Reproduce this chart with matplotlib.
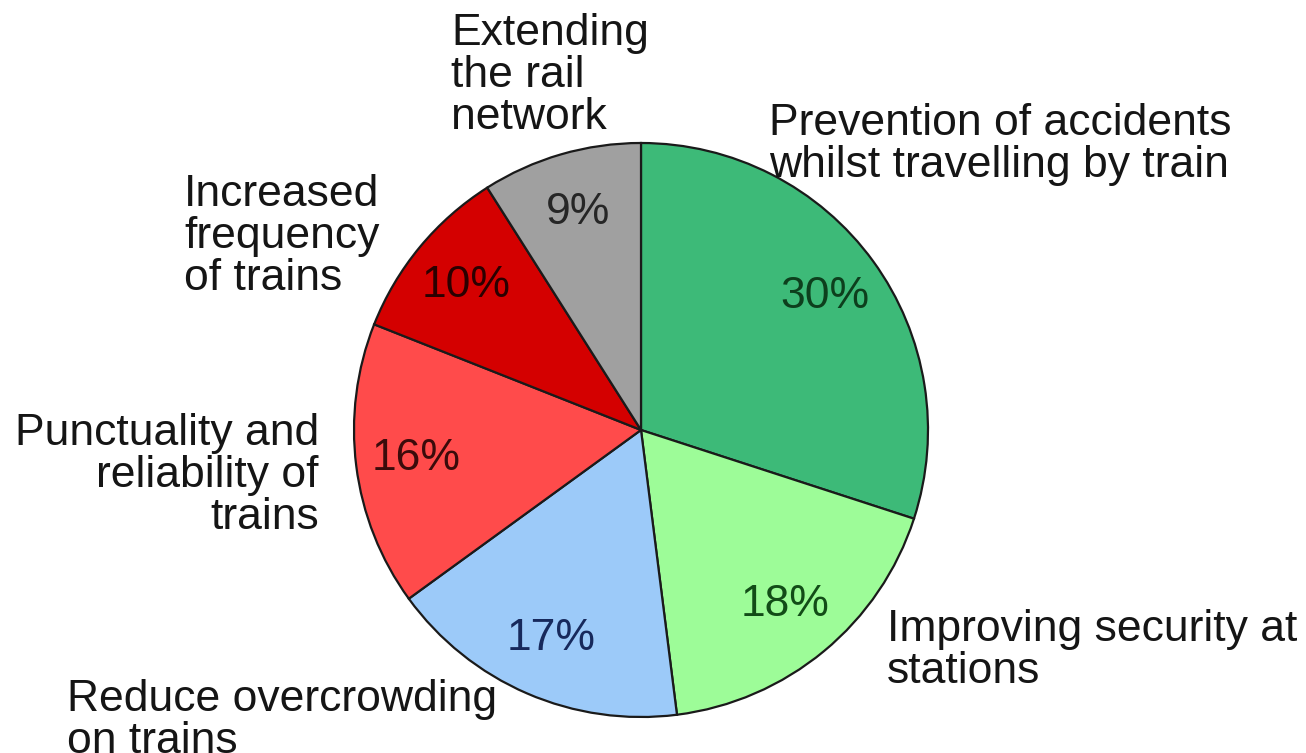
import matplotlib.pyplot as plt

# Survey shares, clockwise from twelve o'clock
categories = [
    "Prevention of accidents\nwhilst travelling by train",
    "Improving security at\nstations",
    "Reduce overcrowding\non trains",
    "Punctuality and\nreliability of\ntrains",
    "Increased\nfrequency\nof trains",
    "Extending\nthe rail\nnetwork",
]
shares = [30, 18, 17, 16, 10, 9]
slice_colors = ["#3dba78", "#9dfc98", "#9ccaf9", "#ff4b4b", "#d40000", "#a0a0a0"]
pct_colors = ["#0d3f1d", "#124c17", "#17295c", "#3b0b0b", "#2b0000", "#262626"]

# category label placement in pixels (x, top y), with horizontal alignment
label_pos = [
    (769, 103, "left"),
    (887, 609, "left"),
    (67, 679, "left"),
    (319, 413, "right"),
    (184, 174, "left"),
    (451, 13, "left"),
]

W, H = 1306, 753
plt.rcParams["font.family"] = ["Liberation Sans", "DejaVu Sans"]

fig = plt.figure(figsize=(W / 100, H / 100), dpi=100)
ax = fig.add_axes([0, 0, 1, 1])

wedges, _, pcts = ax.pie(
    shares,
    colors=slice_colors,
    startangle=90,
    counterclock=False,
    center=(641, H - 430),
    radius=287,
    autopct="%d%%",
    pctdistance=0.79,
    wedgeprops={"edgecolor": "#1a1a1a", "linewidth": 1.6},
    textprops={"fontsize": 32},
    frame=True,
)
ax.set_xlim(0, W)
ax.set_ylim(0, H)
ax.set_aspect("equal")
ax.axis("off")

for t, c in zip(pcts, pct_colors):
    t.set_color(c)

for name, (x, y, ha) in zip(categories, label_pos):
    ax.text(x, H - y, name, ha=ha, va="top", multialignment=ha,
            fontsize=32, linespacing=1.03, color="#151515")

fig.savefig("out.png", dpi=100, facecolor="white")
